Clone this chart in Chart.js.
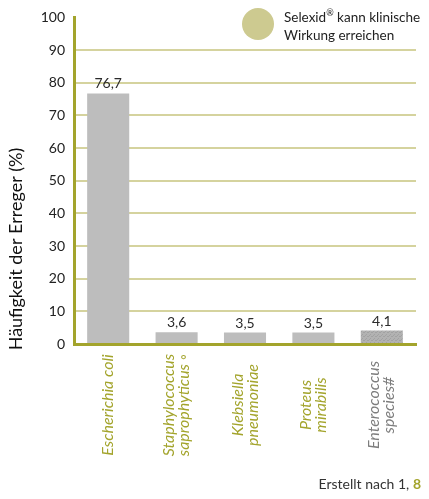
<!DOCTYPE html>
<html>
<head>
<meta charset="utf-8">
<script src="https://cdn.jsdelivr.net/npm/chart.js@4/dist/chart.umd.min.js"></script>
<style>
html,body{margin:0;padding:0;background:#fff;}
#wrap{width:429px;height:499px;position:relative;}
</style>
</head>
<body>
<div id="wrap"><canvas id="c" width="429" height="499"></canvas></div>
<script>
// ---- data ----
const categories = [
  ["Escherichia coli"],
  ["Staphylococcus", "saprophyticus \u25E6"],
  ["Klebsiella", "pneumoniae"],
  ["Proteus", "mirabilis"],
  ["Enterococcus", "species#"]
];
const values = [76.7, 3.6, 3.5, 3.5, 4.1];
const yTicks = [0, 10, 20, 30, 40, 50, 60, 70, 80, 90, 100];
const yTitle = "Häufigkeit der Erreger (%)";
const legendBrand = "Selexid";
const legendMark = "\u00AE";
const legendRest = " kann klinische";
const legendLine2 = "Wirkung erreichen";
const footerText = "Erstellt nach 1, ";
const footerRef = "8";

const OLIVE = "#a3a42c";
const GRID = "#d5d39e";
const BAR = "#bdbdbd";
const FONT = "Lato, 'Open Sans', sans-serif";

// dotted pattern for last bar
function makePattern() {
  const p = document.createElement('canvas');
  p.width = 4; p.height = 4;
  const g = p.getContext('2d');
  g.fillStyle = '#b2b2b2'; g.fillRect(0, 0, 4, 4);
  g.fillStyle = '#a2a2a2';
  g.fillRect(0, 0, 1, 1); g.fillRect(2, 2, 1, 1); g.fillRect(3, 0, 1, 1); g.fillRect(1, 3, 1, 1);
  return document.getElementById('c').getContext('2d').createPattern(p, 'repeat');
}
const barColors = [BAR, BAR, BAR, BAR, makePattern()];
const labelColors = [OLIVE, OLIVE, OLIVE, OLIVE, "#7d7d7d"];

const decor = {
  id: 'decor',
  afterDatasetsDraw(chart) {
    const ctx = chart.ctx;
    const xs = chart.scales.x;
    const meta = chart.getDatasetMeta(0);
    ctx.save();
    // value labels
    ctx.font = "14px " + FONT;
    ctx.fillStyle = "#2b2b2b";
    ctx.textAlign = "center";
    ctx.textBaseline = "alphabetic";
    meta.data.forEach((bar, i) => {
      ctx.fillText(values[i].toFixed(1).replace('.', ','), bar.x, bar.y - 5);
    });
    // category labels, rotated, centered
    ctx.font = "italic 16px " + FONT;
    ctx.textAlign = "center";
    ctx.textBaseline = "middle";
    const lh = 15;
    categories.forEach((lines, i) => {
      const cx = xs.getPixelForValue(i);
      ctx.save();
      ctx.translate(cx, 405);
      ctx.rotate(-Math.PI / 2);
      ctx.fillStyle = labelColors[i];
      const n = lines.length;
      lines.forEach((t, k) => {
        ctx.fillText(t, 0, (k - (n - 1) / 2) * lh);
      });
      ctx.restore();
    });
    // y title
    ctx.save();
    ctx.font = "18px " + FONT;
    ctx.fillStyle = "#111";
    ctx.translate(16, 249);
    ctx.rotate(-Math.PI / 2);
    ctx.textAlign = "center";
    ctx.textBaseline = "middle";
    ctx.fillText(yTitle, 0, 0);
    ctx.restore();
    // legend
    ctx.beginPath();
    ctx.fillStyle = "#cdca90";
    ctx.arc(258, 24, 16, 0, Math.PI * 2);
    ctx.fill();
    ctx.fillStyle = "#222";
    ctx.textAlign = "left";
    ctx.textBaseline = "middle";
    ctx.font = "13.5px " + FONT;
    let lx = 284;
    ctx.fillText(legendBrand, lx, 18);
    lx += ctx.measureText(legendBrand).width;
    ctx.font = "9px " + FONT;
    ctx.fillText(legendMark, lx, 13);
    lx += ctx.measureText(legendMark).width;
    ctx.font = "13.5px " + FONT;
    ctx.fillText(legendRest, lx, 18);
    ctx.fillText(legendLine2, 284, 36);
    // footer
    ctx.textAlign = "left";
    ctx.font = "14px " + FONT;
    ctx.fillStyle = "#333";
    const fw = ctx.measureText(footerText).width;
    ctx.font = "bold 14px " + FONT;
    const rw = ctx.measureText(footerRef).width;
    const fx = 421 - fw - rw;
    ctx.font = "14px " + FONT;
    ctx.fillText(footerText, fx, 484);
    ctx.font = "bold 14px " + FONT;
    ctx.fillStyle = OLIVE;
    ctx.fillText(footerRef, fx + fw, 484);
    ctx.restore();
  }
};

new Chart(document.getElementById('c'), {
  type: 'bar',
  data: {
    labels: categories,
    datasets: [{
      data: values,
      backgroundColor: barColors,
      borderWidth: 0,
      categoryPercentage: 1,
      barPercentage: 0.615
    }]
  },
  options: {
    responsive: false,
    animation: false,
    events: [],
    layout: { padding: { left: 0, right: 13, top: 14, bottom: 0 } },
    plugins: { legend: { display: false }, tooltip: { enabled: false }, title: { display: false } },
    scales: {
      x: {
        grid: { display: false, drawTicks: false },
        border: { display: true, color: OLIVE, width: 3 },
        ticks: { display: false },
        afterFit(s) { s.height = 155; }
      },
      y: {
        min: 0, max: 100,
        afterBuildTicks(s) { s.ticks = yTicks.map(v => ({ value: v })); },
        grid: {
          drawTicks: false,
          lineWidth: 2,
          color: (c) => (c.tick && (c.tick.value === 100 || c.tick.value === 0)) ? 'rgba(0,0,0,0)' : GRID
        },
        border: { display: true, color: OLIVE, width: 3 },
        ticks: { padding: 9, color: "#222", font: { family: FONT, size: 14 } },
        afterFit(s) { s.width = 74; }
      }
    }
  },
  plugins: [decor]
});
</script>
</body>
</html>
